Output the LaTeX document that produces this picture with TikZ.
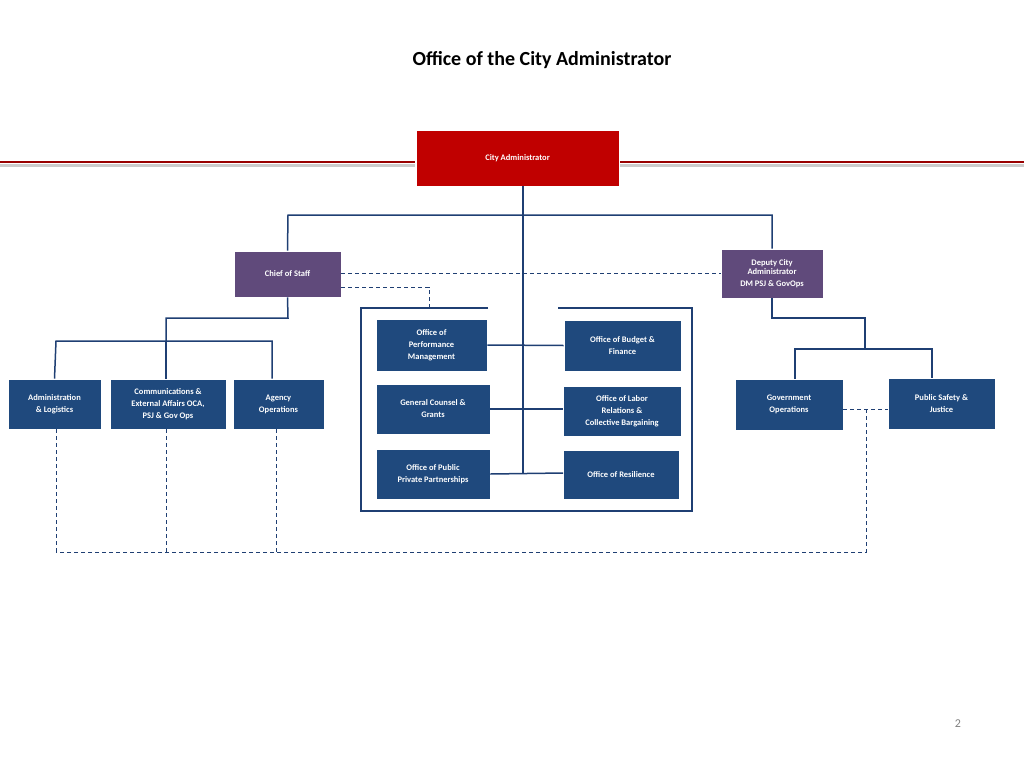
\documentclass[tikz,border=0pt]{standalone}
\usepackage{fontspec}
\setmainfont{Carlito}
\begin{document}
\begin{tikzpicture}[x=1pt,y=-1pt,
 box/.style={fill=blueb,draw=white,line width=0.6pt,text=white,font=\bfseries\fontsize{8.5}{12}\selectfont,align=center,inner sep=0pt},
 ln/.style={draw=lineb,line width=1.5pt},
 dl/.style={draw=lineb,line width=0.8pt,dash pattern=on 4pt off 3pt}]
\definecolor{blueb}{HTML}{1F497D}
\definecolor{lineb}{HTML}{1F3F73}
\definecolor{purp}{HTML}{604A7B}
\definecolor{redb}{HTML}{C00000}
\useasboundingbox (0,0) rectangle (1024,768);
\node[font=\bfseries\fontsize{20}{24}\selectfont] (title) at (542,60) {Office of the City Administrator};
% red rule
\draw[gray!40,line width=3pt] (0,165) -- (415,165) (620,165) -- (1024,165);
\draw[red!60!black,line width=2pt] (0,162) -- (415,162) (620,162) -- (1024,162);
\node[box,fill=redb,minimum width=203pt,minimum height=56pt] (ca) at (517.5,158) {City Administrator};
\node[box,fill=purp,minimum width=107pt,minimum height=46pt] (cos) at (287.5,274) {Chief of Staff};
\node[box,fill=purp,minimum width=102pt,minimum height=49pt] (dca) at (772,273.5) {Deputy City\\[-3pt]Administrator\\DM PSJ \& GovOps};
\node[box,minimum width=93pt,minimum height=50pt] (adm) at (54.5,404) {Administration\\\& Logistics};
\node[box,minimum width=116pt,minimum height=50pt] (com) at (168,404) {Communications \&\\External Affairs OCA,\\PSJ \& Gov Ops};
\node[box,minimum width=91pt,minimum height=50pt] (agy) at (278.5,404) {Agency\\Operations};
\node[box,minimum width=111pt,minimum height=52pt] (perf) at (431.5,345) {Office of\\Performance\\Management};
\node[box,minimum width=117pt,minimum height=51pt] (bud) at (622.5,345.5) {Office of Budget \&\\Finance};
\node[box,minimum width=114pt,minimum height=50pt] (gc) at (433,409) {General Counsel \&\\Grants};
\node[box,minimum width=118pt,minimum height=50pt] (lab) at (622,411) {Office of Labor\\Relations \&\\Collective Bargaining};
\node[box,minimum width=114pt,minimum height=50pt] (ppp) at (433,474) {Office of Public\\Private Partnerships};
\node[box,minimum width=116pt,minimum height=49pt] (res) at (621,474.5) {Office of Resilience};
\node[box,minimum width=108pt,minimum height=51pt] (gov) at (789,404.5) {Government\\Operations};
\node[box,minimum width=107pt,minimum height=51pt] (psj) at (941.5,403.5) {Public Safety \&\\Justice};
\node[text=gray,font=\fontsize{12}{14}\selectfont] (pg) at (958,724) {2};
% trunk
\coordinate (tb) at (523,473);
\draw[ln] (ca.south -| tb) -- (tb);
\draw[ln] (cos.north) -- (288,215) -- (772,215) -- (dca.north);
\draw[ln] (perf.east) -- (bud.west);
\draw[ln] (gc.east) -- (563,409);
\draw[ln] (ppp.east) -- (563,473);
% frame
\coordinate (f1) at (488,308); \coordinate (f2) at (558,308);
\draw[ln] (f1) -- (361,308) -- (361,511) -- (692,511) -- (692,308) -- (f2);
% chief subtree
\draw[ln] (cos.south) -- (288,318) -- (166,318) -- (166,341);
\draw[ln] (adm.north) -- (56,341) -- (272,341) -- (agy.north -| 272,0);
\draw[ln] (166,341) -- (com.north -| 166,0);
% deputy subtree
\draw[ln] (dca.south) -- (772,318) -- (865,318) -- (865,349);
\draw[ln] (gov.north -| 795,0) -- (795,349) -- (932,349) -- (psj.north -| 932,0);
% dashed
\draw[dl] (cos.east |- 0,273) -- (dca.west |- 0,273);
\draw[dl] (cos.east |- 0,287) -- (429,287) -- (429,308);
\draw[dl] (gov.east |- 0,409) -- (psj.west |- 0,409);
\draw[dl] (866,409) -- (866,552) -- (56,552);
\draw[dl] (adm.south -| 56,0) -- (56,552);
\draw[dl] (com.south -| 166,0) -- (166,552);
\draw[dl] (agy.south -| 276,0) -- (276,552);
\end{tikzpicture}
\end{document}
